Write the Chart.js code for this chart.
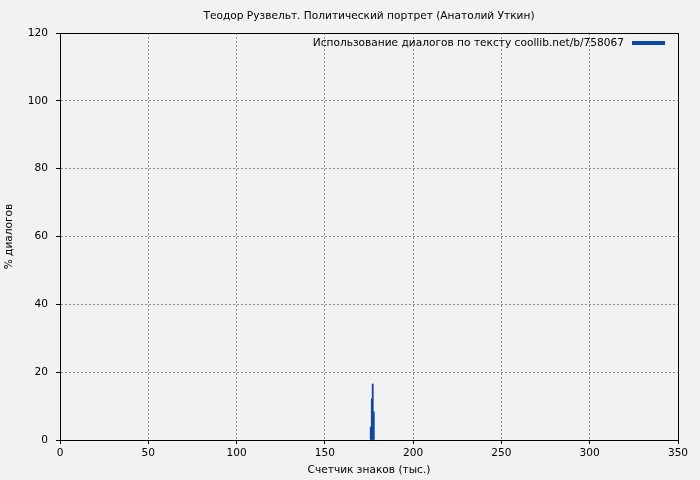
<!DOCTYPE html>
<html>
<head>
<meta charset="utf-8">
<script src="https://cdn.jsdelivr.net/npm/chart.js@4/dist/chart.umd.min.js"></script>
<style>
  body { margin: 0; background: #f2f2f2; }
  canvas { display: block; }
</style>
</head>
<body>
<canvas id="chartCanvas" width="700" height="480"></canvas>
<script>
var TITLE = 'Теодор Рузвельт. Политический портрет (Анатолий Уткин)'
var SERIES_LABEL = 'Использование диалогов по тексту coollib.net/b/758067'
var X_TITLE = 'Счетчик знаков (тыс.)'
var Y_TITLE = '% диалогов'

// position in text (thousands of chars) and dialogue share, %
var positions = [176.0, 176.6, 177.1, 177.7]
var dialogPct = [3.8, 12.1, 16.5, 8.3]

var BAR_COLOR = '#0d47a8'
var FONT = 'DejaVu Sans'
var FONT_SIZE = 10.6

var points = positions.map((x, i) => ({ x: x, y: dialogPct[i] }))

var decor = {
  id: 'decor',
  afterDraw(chart) {
    var ctx = chart.ctx
    var a = chart.chartArea
    ctx.save()
    ctx.strokeStyle = '#000'
    ctx.lineWidth = 1
    ctx.strokeRect(Math.round(a.left) + 0.5, Math.round(a.top) + 0.5,
      Math.round(a.right - a.left), Math.round(a.bottom - a.top))

    ctx.fillStyle = '#000'
    ctx.font = FONT_SIZE + 'px "' + FONT + '"'
    ctx.textBaseline = 'middle'
    var cx = (a.left + a.right) / 2
    ctx.textAlign = 'center'
    ctx.fillText(TITLE, cx, 16)
    ctx.fillText(X_TITLE, cx, 470)

    ctx.save()
    ctx.translate(9, (a.top + a.bottom) / 2)
    ctx.rotate(-Math.PI / 2)
    ctx.fillText(Y_TITLE, 0, 0)
    ctx.restore()

    // legend: text, then line sample
    ctx.textAlign = 'right'
    ctx.fillText(SERIES_LABEL, 624, 43)
    ctx.strokeStyle = BAR_COLOR
    ctx.lineWidth = 4
    ctx.beginPath()
    ctx.moveTo(632, 43)
    ctx.lineTo(665, 43)
    ctx.stroke()
    ctx.restore()
  }
}

var gridOpts = {
  color: '#8a8a8a',
  lineWidth: 1,
  offset: false,
  tickColor: '#000',
  tickLength: 4,
  tickBorderDash: []
}

new Chart(document.getElementById('chartCanvas'), {
  type: 'bar',
  data: {
    datasets: [{
      label: SERIES_LABEL,
      data: points,
      backgroundColor: BAR_COLOR,
      borderWidth: 0,
      barThickness: 1.2
    }]
  },
  options: {
    responsive: false,
    animation: false,
    devicePixelRatio: 1,
    layout: { padding: { top: 33, right: 22, left: 0, bottom: 0 } },
    plugins: {
      legend: { display: false },
      title: { display: false },
      tooltip: { enabled: false }
    },
    scales: {
      x: {
        type: 'linear',
        offset: false,
        min: 0,
        max: 350,
        ticks: { stepSize: 50, color: '#000', padding: 3, maxRotation: 0, font: { family: FONT, size: FONT_SIZE } },
        grid: gridOpts,
        border: { color: '#000', width: 1, dash: [2, 2] },
        afterFit: s => { s.height = 40 }
      },
      y: {
        min: 0,
        max: 120,
        ticks: { stepSize: 20, color: '#000', padding: 8, font: { family: FONT, size: FONT_SIZE } },
        grid: gridOpts,
        border: { color: '#000', width: 1, dash: [2, 2] },
        afterFit: s => { s.width = 60 }
      }
    }
  },
  plugins: [decor]
})
</script>
</body>
</html>
